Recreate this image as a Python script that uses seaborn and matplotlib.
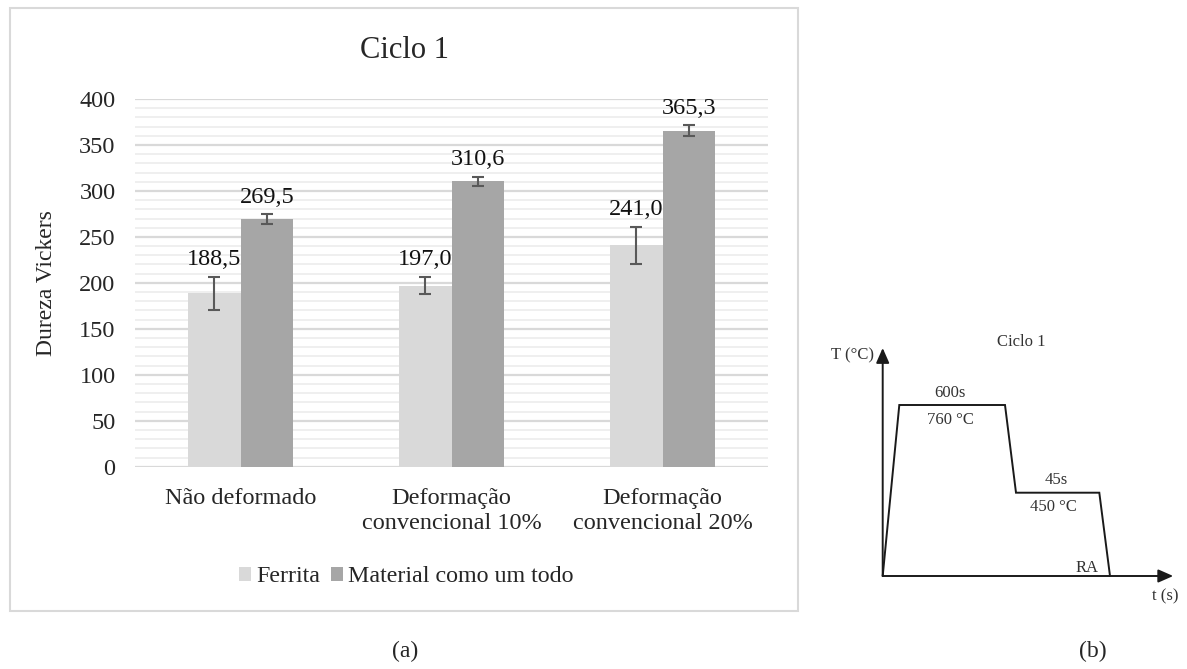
import matplotlib
matplotlib.use("Agg")
import matplotlib.pyplot as plt
from matplotlib.patches import Rectangle
from matplotlib.ticker import MultipleLocator
import numpy as np
import pandas as pd
import seaborn as sns

# Vickers hardness after heat-treatment cycle 1
categories = ["Não deformado",
              "Deformação\nconvencional 10%",
              "Deformação\nconvencional 20%"]
series = ["Ferrita", "Material como um todo"]
ferrita = [188.5, 197.0, 241.0]
ferrita_err = [18, 9, 20]
material = [269.5, 310.6, 365.3]
material_err = [5, 5, 6]

y_ticks = [0, 50, 100, 150, 200, 250, 300, 350, 400]

# Schematic thermal profile of cycle 1 (arbitrary units)
profile_time = [0, 1.66, 12.23, 13.33, 21.66, 22.73]
profile_temp = [0, 17.1, 17.1, 8.33, 8.33, 0]

sns.set_style("white")
plt.rcParams["font.family"] = ["Liberation Serif", "DejaVu Serif"]

df = pd.DataFrame({
    "categoria": categories * 2,
    "serie": [series[0]] * 3 + [series[1]] * 3,
    "dureza": ferrita + material,
})

W, H = 1187, 669
fig = plt.figure(figsize=(W / 100, H / 100), dpi=100)

def fx(px):
    return px / W

def fy(py):
    return 1 - py / H

# ---- (a) bar chart ----
ax = fig.add_axes([fx(135), fy(466.7), fx(768) - fx(135), fy(99) - fy(466.7)])
palette = ["#d9d9d9", "#a6a6a6"]
sns.barplot(data=df, x="categoria", y="dureza", hue="serie", order=categories,
            hue_order=series, palette=palette, width=0.5, errorbar=None,
            saturation=1, linewidth=0, ax=ax, zorder=2)

ax.set_xlim(-0.5, 2.5)
ax.set_ylim(0, 400)
ax.set_yticks(y_ticks)
ax.yaxis.set_minor_locator(MultipleLocator(10))
ax.set_axisbelow(True)
ax.grid(which="minor", axis="y", color="#eeeeee", lw=1.3, zorder=0)
ax.grid(which="major", axis="y", color="#d9d9d9", lw=1.6, zorder=0)
ax.grid(False, axis="x")
for s in ax.spines.values():
    s.set_visible(False)
ax.tick_params(axis="y", which="both", length=0, pad=14, labelsize=17.5)
ax.tick_params(axis="x", length=0, pad=15, labelsize=17.5)
for lab in ax.get_xticklabels():
    lab.set_linespacing(1.3)
ax.set_xlabel("")
ax.set_ylabel("Dureza Vickers", fontsize=17)
ax.yaxis.set_label_coords(-0.124, 0.5)

errs = [ferrita_err, material_err]
vals = [ferrita, material]
for cont, v_list, e_list in zip(ax.containers, vals, errs):
    xs = [b.get_x() + b.get_width() / 2 for b in cont]
    ax.errorbar(xs, v_list, yerr=e_list, fmt="none", ecolor="#595959",
                elinewidth=1.5, capsize=4, capthick=1.5, zorder=3)
    for x, v, e in zip(xs, v_list, e_list):
        ax.annotate(f"{v:.1f}".replace(".", ","), xy=(x, v + e),
                    xytext=(0, 12.5), textcoords="offset points",
                    ha="center", va="center", fontsize=17.5, color="#111111")

leg = ax.get_legend()
handles, labels = ax.get_legend_handles_labels()
if leg is not None:
    leg.remove()
fig.legend(handles, labels, loc="center", bbox_to_anchor=(fx(406), fy(577)),
           ncol=2, frameon=False, fontsize=17.3, handlelength=0.5,
           handleheight=0.5, handletextpad=0.22, columnspacing=0.45,
           borderaxespad=0)

fig.text(fx(405), fy(50), "Ciclo 1", ha="center", va="center", fontsize=22)

# frame around the chart
fig.patches.append(Rectangle((fx(10), fy(611)), fx(798) - fx(10), fy(8) - fy(611),
                             transform=fig.transFigure, fill=False,
                             edgecolor="#d9d9d9", lw=1.5))

# ---- (b) schematic of the heat-treatment cycle ----
ox, oy, scale = 882.7, 576, 10.0
ax2 = fig.add_axes([fx(860), fy(610), fx(1187) - fx(860), fy(330) - fy(610)])
ax2.set_xlim((860 - ox) / scale, (1187 - ox) / scale)
ax2.set_ylim((oy - 610) / scale, (oy - 330) / scale)
ax2.axis("off")
ax2.plot(profile_time, profile_temp, color="#1a1a1a", lw=1.4, solid_joinstyle="miter")
arrow = dict(arrowstyle="-|>,head_length=0.5,head_width=0.22", color="#1a1a1a",
             lw=1.4, mutation_scale=18, shrinkA=0, shrinkB=0)
ax2.annotate("", xy=(29.05, 0), xytext=(0, 0), arrowprops=arrow)
ax2.annotate("", xy=(0, 22.8), xytext=(0, 0), arrowprops=arrow)

small = dict(fontsize=12, color="#333333", va="center")
ax2.text(13.9, 23.43, "Ciclo 1", ha="center", **small)
ax2.text(-0.9, 22.1, "T (°C)", ha="right", **small)
ax2.text(6.73, 18.33, "600s", ha="center", **small)
ax2.text(6.73, 15.6, "760 °C", ha="center", **small)
ax2.text(17.4, 9.6, "45s", ha="center", **small)
ax2.text(17.03, 6.9, "450 °C", ha="center", **small)
ax2.text(20.43, 0.8, "RA", ha="center", **small)
ax2.text(28.23, -2.07, "t (s)", ha="center", **small)

fig.text(fx(405), fy(651), "(a)", ha="center", va="center", fontsize=17)
fig.text(fx(1093), fy(651), "(b)", ha="center", va="center", fontsize=17)

fig.savefig("out.png", dpi=100)
